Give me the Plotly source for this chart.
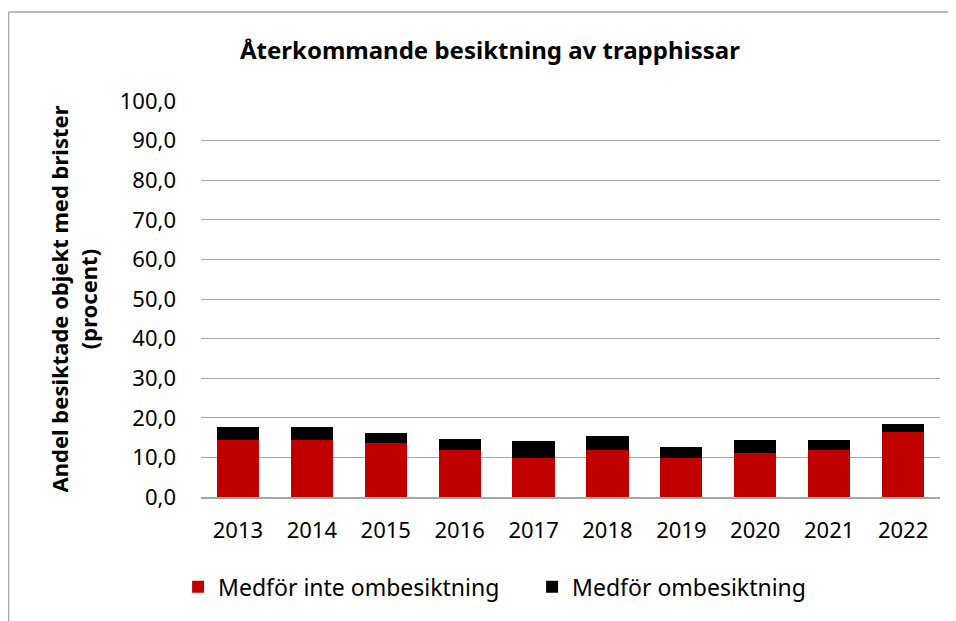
import plotly.graph_objects as go

years = ["2013", "2014", "2015", "2016", "2017", "2018", "2019", "2020", "2021", "2022"]
medfor_inte = [14.5, 14.5, 13.7, 11.9, 9.9, 11.9, 9.9, 11.2, 11.8, 16.5]
medfor = [3.1, 3.1, 2.5, 2.8, 4.2, 3.4, 2.7, 3.3, 2.5, 2.0]
yticks = [0, 10, 20, 30, 40, 50, 60, 70, 80, 90, 100]

FONT = "Noto Sans"

fig = go.Figure()
fig.add_trace(go.Bar(x=years, y=medfor_inte, name="Medför inte ombesiktning",
                     marker=dict(color="#C00000", line=dict(width=0))))
fig.add_trace(go.Bar(x=years, y=medfor, name="Medför ombesiktning",
                     marker=dict(color="#000000", line=dict(width=0))))

fig.update_layout(
    barmode="stack",
    bargap=0.43,
    width=948, height=613,
    margin=dict(l=193, r=16, t=93, b=124),
    paper_bgcolor="white", plot_bgcolor="white",
    separators=", ",
    font=dict(family=FONT, size=22, color="#000000"),
    title=dict(text="<b>Återkommande besiktning av trapphissar</b>",
               x=0.391, xref="paper", xanchor="center", y=0.931, yanchor="middle",
               font=dict(family=FONT, size=24)),
    legend=dict(orientation="h", x=-0.031, xanchor="left", y=-0.227, yanchor="middle",
                font=dict(family=FONT, size=23), traceorder="normal",
                entrywidth=309, entrywidthmode="pixels"),
    showlegend=True,
)
fig.update_xaxes(showgrid=False, showline=True, linecolor="#A6A6A6", linewidth=1.5,
                 ticks="", tickfont=dict(size=22), ticklabelstandoff=13)
fig.update_yaxes(range=[0, 100], tickvals=yticks, tickformat=".1f",
                 showgrid=True, gridcolor="#A6A6A6", gridwidth=1,
                 zeroline=False, ticks="", tickfont=dict(size=22), ticklabelstandoff=24,
                 title=dict(text="<b>Andel besiktade objekt med brister<br>(procent)</b>",
                            font=dict(size=22), standoff=16))
# outer chart frame (left and top edges visible in the reference)
fig.add_shape(type="line", xref="paper", yref="paper",
              x0=-0.2605, x1=-0.2605, y0=-0.6, y1=1.2247,
              line=dict(color="#A6A6A6", width=1.5), layer="below")
fig.add_shape(type="line", xref="paper", yref="paper",
              x0=-0.2605, x1=1.0217, y0=1.2247, y1=1.2247,
              line=dict(color="#A6A6A6", width=1.5), layer="below")
fig.write_html("out.html", config={"displayModeBar": False})
